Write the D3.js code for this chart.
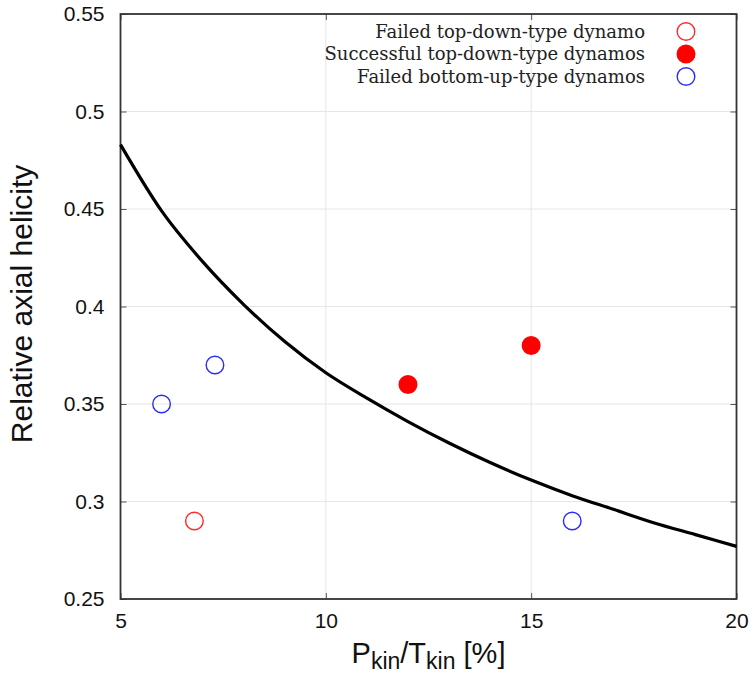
<!DOCTYPE html>
<html>
<head>
<meta charset="utf-8">
<script src="https://cdn.jsdelivr.net/npm/d3@7"></script>
<style>
  html, body { margin: 0; padding: 0; background: #fff; }
  svg { display: block; }
</style>
</head>
<body>
<div id="chart"></div>
<script>
// Axis tick values
const xTicks = [5, 10, 15, 20];
const yTicks = [0.25, 0.3, 0.35, 0.4, 0.45, 0.5, 0.55];

// Simulation runs: kinetic energy ratio (%) vs relative axial helicity
const failedTopDown = [{x: 6.8, y: 0.29}];
const successfulTopDown = [{x: 12, y: 0.36}, {x: 15, y: 0.38}];
const failedBottomUp = [{x: 6, y: 0.35}, {x: 7.3, y: 0.37}, {x: 16, y: 0.29}];

// Critical curve separating the regimes
const curveX = [5, 6, 7, 8, 9, 10, 11, 12, 13, 14, 15, 16, 17, 18, 19, 20];
const curveY = [0.483, 0.449, 0.423, 0.401, 0.382, 0.366, 0.353, 0.341, 0.330, 0.320, 0.311, 0.303, 0.296, 0.289, 0.283, 0.277];

const legendItems = [
  {label: "Failed top-down-type dynamo", stroke: "#ff2a2a", fill: "none"},
  {label: "Successful top-down-type dynamos", stroke: "#ff0000", fill: "#ff0000"},
  {label: "Failed bottom-up-type dynamos", stroke: "#2b2bff", fill: "none"}
];

const W = 754, H = 676;
const m = {left: 120.5, right: 17.5, top: 14, bottom: 77};
const iw = W - m.left - m.right, ih = H - m.top - m.bottom;

const svg = d3.select("#chart").append("svg").attr("width", W).attr("height", H);
const g = svg.append("g").attr("transform", `translate(${m.left},${m.top})`);

const x = d3.scaleLinear().domain([5, 20]).range([0, iw]);
const y = d3.scaleLinear().domain([0.25, 0.55]).range([ih, 0]);

// Grid
g.append("g").selectAll("line").data(xTicks.slice(1, -1)).join("line")
  .attr("x1", d => x(d)).attr("x2", d => x(d)).attr("y1", 0).attr("y2", ih)
  .attr("stroke", "#e6e6e6").attr("stroke-width", 1);
g.append("g").selectAll("line").data(yTicks.slice(1, -1)).join("line")
  .attr("y1", d => y(d)).attr("y2", d => y(d)).attr("x1", 0).attr("x2", iw)
  .attr("stroke", "#e6e6e6").attr("stroke-width", 1);

// Axes with inward ticks
const fontSans = "'Liberation Sans', Arial, sans-serif";
const xAxis = g.append("g").attr("transform", `translate(0,${ih})`)
  .call(d3.axisBottom(x).tickValues(xTicks).tickSize(-6).tickPadding(14).tickFormat(d3.format("d")));
const yAxis = g.append("g")
  .call(d3.axisLeft(y).tickValues(yTicks).tickSize(-6).tickPadding(16).tickFormat(d => d3.format("")(+d.toFixed(2))));
const xTop = g.append("g")
  .call(d3.axisTop(x).tickValues(xTicks).tickSize(-6).tickFormat(""));
const yRight = g.append("g").attr("transform", `translate(${iw},0)`)
  .call(d3.axisRight(y).tickValues(yTicks).tickSize(-6).tickFormat(""));

[xAxis, yAxis, xTop, yRight].forEach(a => {
  a.select(".domain").remove();
  a.selectAll(".tick line").attr("stroke", "#555").attr("stroke-width", 1);
  a.selectAll(".tick text").attr("font-family", fontSans).attr("font-size", 21).attr("fill", "#111");
});

// Frame
g.append("rect").attr("x", 0).attr("y", 0).attr("width", iw).attr("height", ih)
  .attr("fill", "none").attr("stroke", "#333").attr("stroke-width", 1.8);

// Critical curve
const curveData = curveX.map((d, i) => ({x: d, y: curveY[i]}));
g.append("path").datum(curveData)
  .attr("fill", "none").attr("stroke", "#000").attr("stroke-width", 3.2)
  .attr("d", d3.line().x(d => x(d.x)).y(d => y(d.y)).curve(d3.curveMonotoneX));

// Points
function drawPoints(data, stroke, fill) {
  g.append("g").selectAll("circle").data(data).join("circle")
    .attr("cx", d => x(d.x)).attr("cy", d => y(d.y)).attr("r", 8.8)
    .attr("fill", fill).attr("stroke", stroke).attr("stroke-width", 1.4);
}
drawPoints(failedTopDown, legendItems[0].stroke, legendItems[0].fill);
drawPoints(successfulTopDown, legendItems[1].stroke, legendItems[1].fill);
drawPoints(failedBottomUp, legendItems[2].stroke, legendItems[2].fill);

// Legend
const lg = svg.append("g");
legendItems.forEach((it, i) => {
  const cy = 31.5 + i * 22.5;
  lg.append("text").attr("x", 645).attr("y", cy + 6)
    .attr("text-anchor", "end").attr("font-family", "'DejaVu Serif', 'Liberation Serif', serif")
    .attr("font-size", 18).attr("fill", "#222").text(it.label);
  lg.append("circle").attr("cx", 686).attr("cy", cy).attr("r", 8.8)
    .attr("fill", it.fill).attr("stroke", it.stroke).attr("stroke-width", 1.4);
});

// Axis titles
svg.append("text")
  .attr("transform", `translate(32,304) rotate(-90)`)
  .attr("text-anchor", "middle").attr("font-family", fontSans).attr("font-size", 30).attr("fill", "#111")
  .text("Relative axial helicity");

const xt = svg.append("text").attr("x", m.left + iw / 2).attr("y", 663)
  .attr("text-anchor", "middle").attr("font-family", fontSans).attr("font-size", 29).attr("fill", "#111");
xt.append("tspan").text("P");
xt.append("tspan").attr("font-size", 23).attr("dy", 6).text("kin");
xt.append("tspan").attr("dy", -6).text("/T");
xt.append("tspan").attr("font-size", 23).attr("dy", 6).text("kin");
xt.append("tspan").attr("dy", -6).text(" [%]");
</script>
</body>
</html>
